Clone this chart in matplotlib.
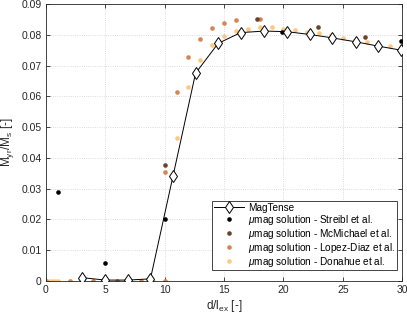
import matplotlib
matplotlib.use("Agg")
import matplotlib.pyplot as plt
import numpy as np

plt.rcParams['font.family'] = ['Liberation Sans', 'DejaVu Sans']
plt.rcParams['mathtext.fontset'] = 'custom'
plt.rcParams['mathtext.rm'] = 'Liberation Sans'
plt.rcParams['mathtext.it'] = 'Liberation Sans:italic'

# MagTense
mt_x = [3.0, 5.0, 6.9, 8.8, 10.7, 12.6, 14.5, 16.4, 18.4, 20.3, 22.2, 24.1, 26.1, 28.0, 29.9]
mt_y = [0.0011, 0.0003, 0.0003, 0.0007, 0.0341, 0.0675, 0.0772, 0.0807, 0.0812,
        0.0810, 0.0801, 0.0790, 0.0777, 0.0763, 0.0750]

# Streibl et al.
st_x = [1.0, 5.0, 10.0, 19.9, 29.9]
st_y = [0.0290, 0.0059, 0.0200, 0.0810, 0.0780]

# McMichael et al.
mm_x = [3.1, 10.0, 17.75, 22.9, 26.9]
mm_y = [0.0005, 0.0377, 0.0852, 0.0825, 0.0794]

# Lopez-Diaz et al.
ld_x = [0.0, 2.0, 4.0, 6.0, 8.0, 10.0, 10.0, 11.0, 12.0, 13.0, 14.0, 15.0, 16.0, 18.0]
ld_y = [0.0, 0.0, 0.0, 0.0, 0.0, 0.0, 0.0354, 0.0614, 0.0727, 0.0787, 0.0823, 0.0839, 0.0848, 0.0850]

# Donahue et al.
dn_x = [0.0, 0.25, 0.5, 0.75, 1.0, 2.0, 3.0, 4.0, 5.0, 6.0, 7.0, 8.0, 9.0, 10.0,
        11.0, 12.0, 13.0, 14.0, 15.0, 16.0, 17.0, 18.0, 19.0, 20.0, 21.0, 22.0, 23.0,
        24.0, 25.0, 26.0, 27.0, 28.0, 29.0, 30.0]
dn_y = [0.0, 0.0, 0.0, 0.0, 0.0, 0.0, 0.0, 0.0, 0.0, 0.0, 0.0, 0.0, 0.0, 0.0,
        0.0464, 0.0631, 0.0717, 0.0767, 0.0797, 0.0812, 0.0820, 0.0824, 0.0824, 0.0820,
        0.0815, 0.0810, 0.0805, 0.0800, 0.0790, 0.0783, 0.0777, 0.0770, 0.0765, 0.0758]

c_st = (0.0, 0.0, 0.0)
c_mm = (0.417, 0.26, 0.166)
c_ld = (0.833, 0.52, 0.33)
c_dn = (1.0, 0.78, 0.497)

fig = plt.figure(figsize=(4.07, 3.21), dpi=100)
ax = fig.add_axes([0.113, 0.1246, 0.875, 0.863])

ms = 3.3
ax.plot(mt_x, mt_y, '-', color='black', lw=0.7, marker='d', markersize=6,
        markerfacecolor='white', markeredgecolor='black', markeredgewidth=0.7,
        label='MagTense', zorder=5)
ax.plot(st_x, st_y, 'o', color=c_st, markersize=ms, markeredgewidth=0,
        label=r'$\mu$mag solution - Streibl et al.', zorder=4)
ax.plot(mm_x, mm_y, 'o', color=c_mm, markersize=ms, markeredgewidth=0,
        label=r'$\mu$mag solution - McMichael et al.', zorder=3)
ax.plot(ld_x, ld_y, 'o', color=c_ld, markersize=ms, markeredgewidth=0,
        label=r'$\mu$mag solution - Lopez-Diaz et al.', zorder=2)
ax.plot(dn_x, dn_y, 'o', color=c_dn, markersize=ms, markeredgewidth=0,
        label=r'$\mu$mag solution - Donahue et al.', zorder=1)

ax.set_xlim(0, 30)
ax.set_ylim(0, 0.09)
ax.set_xticks([0, 5, 10, 15, 20, 25, 30])
ax.set_yticks([0, 0.01, 0.02, 0.03, 0.04, 0.05, 0.06, 0.07, 0.08, 0.09])
ax.set_yticklabels(['0', '0.01', '0.02', '0.03', '0.04', '0.05', '0.06', '0.07', '0.08', '0.09'])
ax.tick_params(direction='in', top=True, right=True, labelsize=7.5, length=3,
               width=0.6, colors='#262626', pad=3)
ax.grid(True, linestyle=':', color='#d0d0d0', linewidth=0.6)
for s in ax.spines.values():
    s.set_linewidth(0.6)
    s.set_color('#262626')

ax.set_xlabel(r'd/l$_{\mathrm{ex}}$ [-]', fontsize=8.5, color='#262626', labelpad=2)
ax.set_ylabel(r'M$_{\mathrm{yr}}$/M$_{\mathrm{s}}$ [-]', fontsize=8.5, color='#262626', labelpad=4)

leg = ax.legend(loc='lower right', bbox_to_anchor=(0.985, 0.038), fontsize=7.2,
                frameon=True, fancybox=False, edgecolor='#262626', framealpha=1,
                handlelength=3.0, handletextpad=0.4, borderpad=0.15, labelspacing=0.0,
                borderaxespad=0)
leg.get_frame().set_linewidth(0.6)

fig.savefig('out.png', dpi=100)
